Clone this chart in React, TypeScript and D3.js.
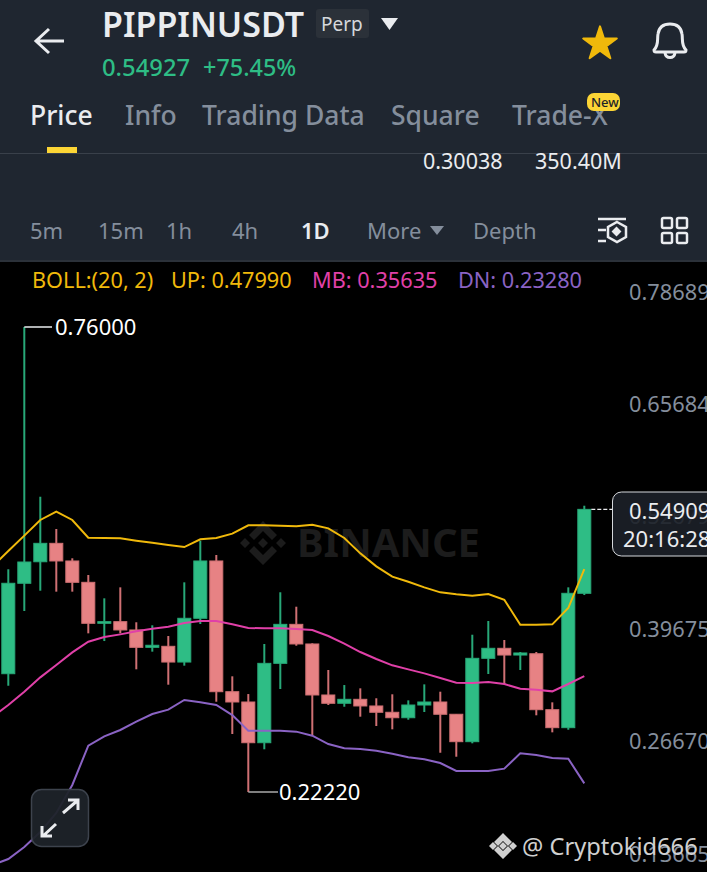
import * as d3 from "d3";
import React, { useEffect, useRef } from "react";

const opens = [0.359, 0.4636, 0.4885, 0.5098, 0.4894, 0.4647, 0.4173, 0.4192, 0.4096, 0.3895, 0.3907, 0.3725, 0.4231, 0.4894, 0.3382, 0.3263, 0.2792, 0.371, 0.4161, 0.3934, 0.3344, 0.3248, 0.3294, 0.3217, 0.3144, 0.3081, 0.3228, 0.3263, 0.3121, 0.2804, 0.3768, 0.3884, 0.3806, 0.3821, 0.3174, 0.2966, 0.452];
const closes = [0.4636, 0.4882, 0.5098, 0.4894, 0.4647, 0.4173, 0.4192, 0.4096, 0.3895, 0.3919, 0.3725, 0.4231, 0.4894, 0.3382, 0.3263, 0.2792, 0.371, 0.4161, 0.3934, 0.3344, 0.3248, 0.3294, 0.3217, 0.3144, 0.3081, 0.3228, 0.3263, 0.3121, 0.2804, 0.3768, 0.3884, 0.3806, 0.383, 0.3174, 0.2966, 0.452, 0.54909];
const highs = [0.4798, 0.76, 0.5637, 0.5264, 0.4925, 0.4732, 0.4462, 0.4589, 0.4185, 0.415, 0.4026, 0.4647, 0.5128, 0.4963, 0.356, 0.3355, 0.3934, 0.4532, 0.4365, 0.3942, 0.3633, 0.3459, 0.3421, 0.3306, 0.3352, 0.3282, 0.3467, 0.3382, 0.3121, 0.4041, 0.42, 0.398, 0.3841, 0.3841, 0.3259, 0.4589, 0.5533];
const lows = [0.3451, 0.4315, 0.455, 0.4539, 0.4539, 0.4057, 0.3968, 0.4057, 0.3641, 0.3845, 0.3463, 0.3683, 0.4165, 0.3266, 0.2893, 0.2222, 0.2716, 0.3413, 0.3914, 0.2881, 0.3228, 0.3208, 0.3093, 0.2985, 0.2947, 0.3058, 0.3147, 0.2676, 0.263, 0.2785, 0.3587, 0.3471, 0.3633, 0.3109, 0.2912, 0.2942, 0.45];

// first value of each band belongs to the candle just off the left edge
const bollUp = [0.4828, 0.5009, 0.5187, 0.5368, 0.5464, 0.5368, 0.5163, 0.516, 0.5156, 0.5129, 0.5106, 0.5079, 0.5055, 0.5144, 0.516, 0.521, 0.5306, 0.5306, 0.5302, 0.5295, 0.5314, 0.5271, 0.516, 0.4982, 0.4832, 0.4712, 0.4654, 0.4589, 0.4531, 0.4508, 0.4493, 0.4512, 0.4446, 0.4157, 0.4157, 0.4161, 0.435, 0.4801];
const bollMb = [0.3089, 0.3228, 0.3382, 0.3548, 0.3691, 0.3837, 0.396, 0.4014, 0.4045, 0.408, 0.4111, 0.4134, 0.4176, 0.42, 0.42, 0.4161, 0.4119, 0.4115, 0.4115, 0.4107, 0.4096, 0.4026, 0.3937, 0.3841, 0.376, 0.3687, 0.364, 0.3594, 0.354, 0.3486, 0.3482, 0.3494, 0.3471, 0.3417, 0.3405, 0.3386, 0.3471, 0.3563];
const bollDn = [0.1377, 0.1447, 0.1586, 0.1759, 0.1979, 0.2303, 0.2758, 0.2866, 0.2939, 0.3035, 0.3124, 0.3174, 0.3286, 0.3259, 0.3228, 0.3112, 0.2931, 0.2931, 0.2931, 0.292, 0.2873, 0.2777, 0.2727, 0.2719, 0.27, 0.2665, 0.2623, 0.26, 0.2557, 0.2465, 0.2465, 0.2465, 0.2492, 0.2669, 0.265, 0.2615, 0.2607, 0.2322];

const axisTicks = [0.78689, 0.65684, 0.52679, 0.39675, 0.2667, 0.13665];
const tabs = ["Price", "Info", "Trading Data", "Square", "Trade-X"];
const tabX = [30, 125, 202, 391, 512];
const frames = ["5m", "15m", "1h", "4h", "1D", "More", "Depth"];
const frameX = [30, 98, 166, 232, 301, 367, 473];

const GREEN = "#2ebd85";
const RED = "#e78284";
const GREEN_EDGE = "#28a878";
const RED_EDGE = "#cf7073";
const FONT = "'Noto Sans', sans-serif";

export default function App() {
  const ref = useRef<SVGSVGElement>(null);

  useEffect(() => {
    document.body.style.margin = "0";
    const svg = d3.select(ref.current);
    svg.selectAll("*").remove();
    svg.attr("font-family", FONT);

    const x = d3.scaleLinear().domain([0, 36]).range([8.3, 584.3]);
    const y = d3.scaleLinear().domain([0.76, 0.2222]).range([327, 792]);

    const txt = (s: string, tx: number, ty: number, size: number, fill: string, weight = 400) =>
      svg
        .append("text")
        .attr("x", tx)
        .attr("y", ty)
        .attr("font-size", size)
        .attr("font-weight", weight)
        .attr("fill", fill)
        .text(s);

    // header panel
    svg.append("rect").attr("width", 707).attr("height", 872).attr("fill", "#000");
    svg.append("rect").attr("width", 707).attr("height", 260).attr("fill", "#1f2630");
    svg.append("rect").attr("y", 260).attr("width", 707).attr("height", 2).attr("fill", "#2b3139");

    svg.append("path").attr("d", "M64 41H37M49 29L36 41L49 53").attr("fill", "none").attr("stroke", "#eaecef").attr("stroke-width", 3);
    txt("PIPPINUSDT", 102, 37, 34, "#eaecef", 600);
    svg.append("rect").attr("x", 316).attr("y", 9).attr("width", 53).attr("height", 29).attr("rx", 3).attr("fill", "#2b3139");
    txt("Perp", 321, 31, 19, "#d5d8dc");
    svg.append("path").attr("d", "M381 18H398L389.5 30Z").attr("fill", "#eaecef");
    txt("0.54927", 102, 76, 23.8, GREEN, 500);
    txt("+75.45%", 203, 76, 23.4, GREEN, 500);

    const star = d3.symbol().type(d3.symbolStar).size(350)();
    svg.append("path").attr("d", star).attr("transform", "translate(600,44)").attr("fill", "#f0b90b")
      .attr("stroke", "#f0b90b").attr("stroke-width", 2).attr("stroke-linejoin", "round");
    svg.append("path")
      .attr("d", "M654 50C659 45 657 40 658 34C659 27 664 24 670 24C676 24 681 27 682 34C683 40 681 45 686 50C686 52 685 52 684 52H656C655 52 654 52 654 50ZM665 53C666 59 674 59 675 53")
      .attr("fill", "none").attr("stroke", "#eaecef").attr("stroke-width", 3);

    tabs.forEach((t, i) => txt(t, tabX[i], 125, 26.5, i === 0 ? "#eaecef" : "#848e9c", 500));
    svg.append("rect").attr("x", 587).attr("y", 93).attr("width", 33).attr("height", 18).attr("rx", 7).attr("fill", "#fcd535");
    txt("New", 591, 107, 13, "#1e2329", 500);
    svg.append("rect").attr("y", 153).attr("width", 707).attr("height", 1).attr("fill", "#39404a");
    svg.append("rect").attr("x", 47).attr("y", 147).attr("width", 30).attr("height", 6).attr("fill", "#fcd535");
    txt("0.30038", 423, 169, 21.5, "#eaecef");
    txt("350.40M", 535, 169, 21.5, "#eaecef");

    frames.forEach((t, i) => txt(t, frameX[i], 239, 22, t === "1D" ? "#eaecef" : "#848e9c", t === "1D" ? 600 : 400));
    svg.append("path").attr("d", "M430 226H444L437 235Z").attr("fill", "#848e9c");
    svg.append("path")
      .attr("d", "M598 219H626M598 230H606M598 241H606M617 222L626 227V237L617 242L608 237V227Z")
      .attr("fill", "none").attr("stroke", "#eaecef").attr("stroke-width", 2.5);
    svg.append("rect").attr("x", 613).attr("y", 228).attr("width", 7).attr("height", 7).attr("transform", "rotate(45 616.5 231.5)").attr("fill", "#eaecef");
    [[662, 218], [677, 218], [662, 233], [677, 233]].forEach(([rx, ry]) =>
      svg.append("rect").attr("x", rx).attr("y", ry).attr("width", 10).attr("height", 10).attr("rx", 1.5)
        .attr("fill", "none").attr("stroke", "#eaecef").attr("stroke-width", 2.5)
    );

    // legend
    txt("BOLL:(20, 2)", 32, 288, 21.7, "#f0b90b");
    txt("UP: 0.47990", 171, 288, 21.7, "#f0b90b");
    txt("MB: 0.35635", 312, 288, 21.7, "#e040a8");
    txt("DN: 0.23280", 458, 288, 21.7, "#8a63c4");

    // watermark
    const mark = svg.append("g").attr("fill", "#1c1c1c");
    mark.append("text").attr("x", 297).attr("y", 557).attr("font-size", 40).attr("font-weight", 700).text("BINANCE");
    mark.append("path").attr("d", "M263 521L277 535L272 540L263 531L254 540L249 535ZM240 543L245 538L250 543L245 548ZM258 543L263 538L268 543L263 548ZM276 543L281 538L286 543L281 548ZM263 565L249 551L254 546L263 555L272 546L277 551Z");

    // price axis labels sit a little above their grid value
    axisTicks.forEach((t) =>
      svg.append("text").attr("x", 629).attr("y", y(t) - 12).attr("dy", "0.36em").attr("font-size", 21.8).attr("fill", "#848e9c").text(t.toFixed(5))
    );

    const chart = svg.append("g");

    // candles
    const idx = d3.range(opens.length);
    const candle = chart.selectAll("g.c").data(idx).enter().append("g").attr("class", "c");
    candle.append("line")
      .attr("x1", (i) => x(i)).attr("x2", (i) => x(i))
      .attr("y1", (i) => y(highs[i])).attr("y2", (i) => y(lows[i]))
      .attr("stroke-width", 2)
      .attr("stroke", (i) => (closes[i] >= opens[i] ? GREEN_EDGE : RED_EDGE));
    candle.append("rect")
      .attr("x", (i) => x(i) - 6.5).attr("width", 13)
      .attr("y", (i) => y(Math.max(opens[i], closes[i])))
      .attr("height", (i) => Math.max(1, Math.abs(y(opens[i]) - y(closes[i]))))
      .attr("fill", (i) => (closes[i] >= opens[i] ? GREEN : RED))
      .attr("stroke", (i) => (closes[i] >= opens[i] ? GREEN_EDGE : RED_EDGE))
      .attr("stroke-width", 1);

    // bollinger bands
    const line = d3.line<number>().x((_, i) => x(i - 1)).y((d) => y(d));
    const bands: [number[], string][] = [
      [bollUp, "#f0b90b"],
      [bollMb, "#e040a8"],
      [bollDn, "#8a63c4"],
    ];
    bands.forEach(([vals, color]) =>
      chart.append("path").attr("d", line(vals)).attr("fill", "none").attr("stroke", color).attr("stroke-width", 2)
    );

    // high and low markers
    svg.append("path").attr("d", `M${x(1)} ${y(0.76)}H52`).attr("stroke", "#eaecef").attr("stroke-width", 1.5).attr("fill", "none");
    txt("0.76000", 55, 335, 22, "#fff");
    svg.append("path").attr("d", `M${x(15)} ${y(0.2222)}H278`).attr("stroke", "#aaa").attr("stroke-width", 1.5).attr("fill", "none");
    txt("0.22220", 279, 800, 22, "#fff");

    // last price tag
    svg.append("line").attr("x1", x(36) + 7).attr("x2", 612).attr("y1", y(0.54909)).attr("y2", y(0.54909))
      .attr("stroke", "#eaecef").attr("stroke-width", 1.2).attr("stroke-dasharray", "4 2");
    svg.append("rect").attr("x", 612.5).attr("y", 492).attr("width", 110).attr("height", 64).attr("rx", 9)
      .attr("fill", "#1c2028").attr("fill-opacity", 0.9).attr("stroke", "#d5d8dc").attr("stroke-width", 1);
    txt("0.54909", 629, 519, 22, "#eaecef");
    txt("20:16:28", 623, 547, 22, "#eaecef");

    // expand button
    svg.append("rect").attr("x", 31.5).attr("y", 789.5).attr("width", 57).attr("height", 57).attr("rx", 10)
      .attr("fill", "#1e2329").attr("fill-opacity", 0.95).attr("stroke", "#3d434d").attr("stroke-width", 1.5);
    svg.append("path")
      .attr("d", "M63 813L77 801M68 800H78V810M56 824L43 836M42 826V836H52")
      .attr("fill", "none").attr("stroke", "#eaecef").attr("stroke-width", 3);

    // square watermark
    svg.append("path").attr("fill", "#d0d0d0")
      .attr("d", "M503 833L512 842L508 846L503 841L498 846L494 842ZM489 846L493 842L497 846L493 850ZM499 846L503 842L507 846L503 850ZM509 846L513 842L517 846L513 850ZM503 859L494 850L498 846L503 851L508 846L512 850Z");
    txt("@ Cryptokid666", 522, 855, 23.7, "#d0d0d0");
  }, []);

  return <svg ref={ref} width={707} height={872} style={{ display: "block" }} />;
}
